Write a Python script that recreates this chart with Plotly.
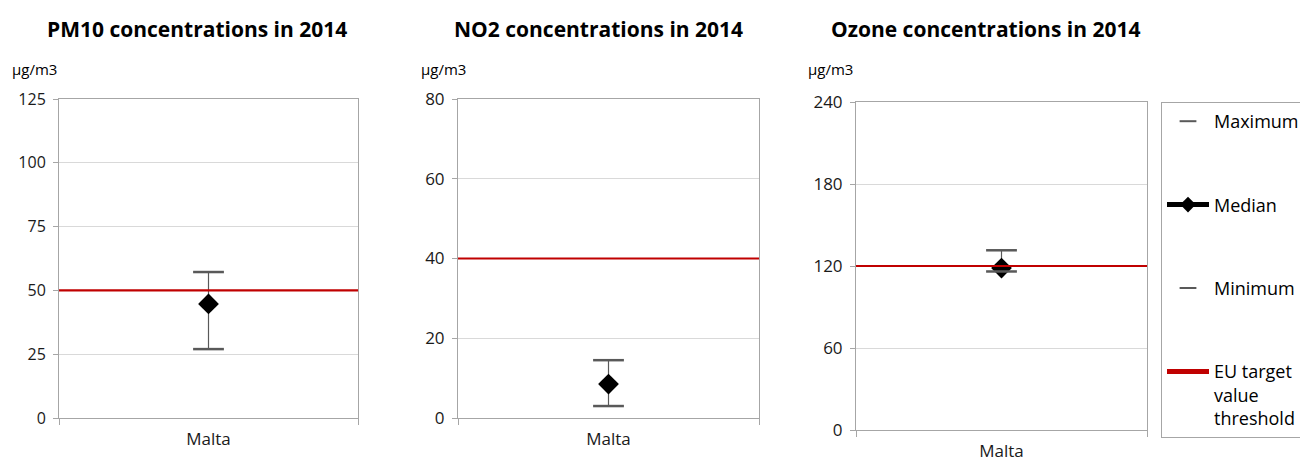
import plotly.graph_objects as go

# Data
countries = ['Malta']
pollutants = ['PM10', 'NO2', 'Ozone']
maximum = [57.2, 14.5, 131.5]
median = [44.7, 8.5, 118.5]
minimum = [27.0, 3.0, 116.0]
threshold = [50, 40, 120]
y_ranges = [[0, 125], [0, 80], [0, 240]]
y_ticks = [[0, 25, 50, 75, 100, 125], [0, 20, 40, 60, 80], [0, 60, 120, 180, 240]]

W, H = 1300, 463
FONT = 'Open Sans'

# pixel boxes of each plot area: left, right, top, bottom
boxes = [(59, 358, 99, 418), (458, 759, 99, 418), (856, 1147, 102, 430)]
title_x = [197, 598, 986]
unit_x = [10, 419, 806]
tick_size = [16, 17, 17]

fig = go.Figure()

for i, name in enumerate(pollutants):
    xa = 'x' if i == 0 else 'x%d' % (i + 1)
    ya = 'y' if i == 0 else 'y%d' % (i + 1)
    show = (i == 2)
    # high-low line
    fig.add_trace(go.Scatter(
        x=[0, 0], y=[minimum[i], maximum[i]], mode='lines',
        line=dict(color='#595959', width=1.2),
        xaxis=xa, yaxis=ya, showlegend=False, hoverinfo='skip'))
    fig.add_trace(go.Scatter(
        x=[0], y=[maximum[i]], mode='markers', name='Maximum',
        marker=dict(symbol='line-ew', size=22, line=dict(color='#595959', width=2.5)),
        xaxis=xa, yaxis=ya, showlegend=show, legendgroup='max', legendrank=1))
    fig.add_trace(go.Scatter(
        x=[0], y=[median[i]], mode='lines+markers', name='Median',
        line=dict(color='black', width=2.5),
        marker=dict(symbol='diamond', size=16, color='black'),
        xaxis=xa, yaxis=ya, showlegend=show, legendgroup='med', legendrank=2))
    fig.add_trace(go.Scatter(
        x=[0], y=[minimum[i]], mode='markers', name='Minimum',
        marker=dict(symbol='line-ew', size=22, line=dict(color='#595959', width=2.5)),
        xaxis=xa, yaxis=ya, showlegend=show, legendgroup='min', legendrank=3))
    fig.add_trace(go.Scatter(
        x=[-0.5, 0.5], y=[threshold[i], threshold[i]], mode='lines',
        name='EU target<br>value<br>threshold',
        line=dict(color='#c00000', width=2.2),
        xaxis=xa, yaxis=ya, showlegend=show, legendgroup='eu', legendrank=4))

    l, r, t, b = boxes[i]
    fig.layout['xaxis' if i == 0 else 'xaxis%d' % (i + 1)] = dict(
        domain=[l / W, r / W], anchor=ya, range=[-0.5, 0.5],
        tickvals=[0], ticktext=countries, ticks='', ticklabelstandoff=6,
        minor=dict(tickvals=[-0.5, 0.5], ticks='outside', ticklen=6, tickcolor='#a6a6a6'),
        showgrid=False, zeroline=False,
        showline=True, linecolor='#a6a6a6', linewidth=1, mirror=True,
        tickfont=dict(family=FONT, size=17, color='#1a1a1a'))
    fig.layout['yaxis' if i == 0 else 'yaxis%d' % (i + 1)] = dict(
        domain=[1 - b / H, 1 - t / H], anchor=xa, range=y_ranges[i],
        tickvals=y_ticks[i], ticks='outside', ticklen=5, tickcolor='#a6a6a6',
        ticklabelstandoff=4,
        showgrid=True, gridcolor='#d9d9d9', gridwidth=1, zeroline=False,
        showline=True, linecolor='#a6a6a6', linewidth=1, mirror=True,
        tickfont=dict(family=FONT, size=tick_size[i], color='#1a1a1a'))

    fig.add_annotation(
        text='<b>%s concentrations in 2014</b>' % name, xref='paper', yref='paper',
        x=title_x[i] / W, y=1 - 29 / H, xanchor='center', yanchor='middle',
        showarrow=False, font=dict(family=FONT, size=21, color='black'))
    fig.add_annotation(
        text='µg/m3', xref='paper', yref='paper', x=unit_x[i] / W, y=1 - 69 / H,
        xanchor='left', yanchor='middle', showarrow=False,
        font=dict(family=FONT, size=15, color='black'))

fig.update_layout(
    width=W, height=H,
    margin=dict(l=0, r=0, t=0, b=0, autoexpand=False),
    paper_bgcolor='white', plot_bgcolor='white',
    legend=dict(xref='container', yref='container',
                x=1161 / W, y=1 - 102 / H, xanchor='left', yanchor='top',
                bordercolor='#a6a6a6', borderwidth=1, tracegroupgap=57,
                valign='top', itemwidth=42, itemsizing='constant',
                maxheight=345,
                font=dict(family=FONT, size=18, color='black')),
    showlegend=True,
)

# drop the default 8px page margin so the figure fills the window exactly
fig.write_html('out.html', config={'displayModeBar': False},
               post_script="document.body.style.margin='0';")
